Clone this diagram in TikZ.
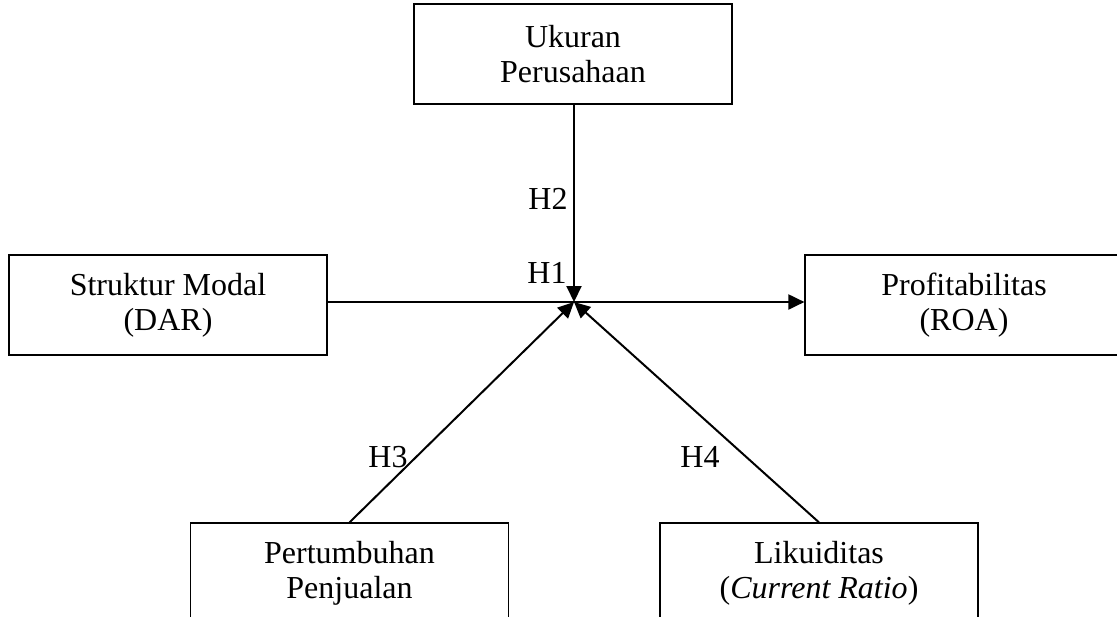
\documentclass[tikz,border=0pt]{standalone}
\usepackage{fontspec}
\setmainfont{Liberation Serif}
\usepackage{tikz}
\usetikzlibrary{positioning,arrows.meta}

\begin{document}
\begin{tikzpicture}[x=0.5pt,y=-0.5pt,
  box/.style={draw,line width=0.6pt,minimum width=159pt,minimum height=50pt,align=center,inner sep=0pt,
    font=\fontsize{16pt}{17.5pt}\selectfont},
  conn/.style={line width=1pt,-{Triangle[length=8pt,width=7.5pt]}},
  hyp/.style={inner sep=0pt,font=\fontsize{16pt}{17.5pt}\selectfont}]
\useasboundingbox (0,0) rectangle (1117,616);
\node[box] (ukuran) at (573,54) {Ukuran\\Perusahaan};
\node[box] (struktur) at (168,305) {Struktur Modal\\(DAR)};
\node[box] (profit) at (964,305) {Profitabilitas\\(ROA)};
\node[box] (tumbuh) at (349.5,573) {Pertumbuhan\\Penjualan};
\node[box] (likuid) at (819,573) {Likuiditas\\(\textit{Current Ratio})};
\coordinate (c) at (574,302);
% hubungan
\draw[conn] (struktur.east |- c) -- (profit.west |- c);
\draw[conn] (ukuran.south -| c) -- (c);
\draw[conn] (tumbuh.north) -- (c);
\draw[conn] (likuid.north) -- (c);
\node[hyp] (h1) at (547,273) {H1};
\node[hyp] (h2) at (548,199) {H2};
\node[hyp] (h3) at (388,457) {H3};
\node[hyp] (h4) at (700,457) {H4};
\end{tikzpicture}
\end{document}
